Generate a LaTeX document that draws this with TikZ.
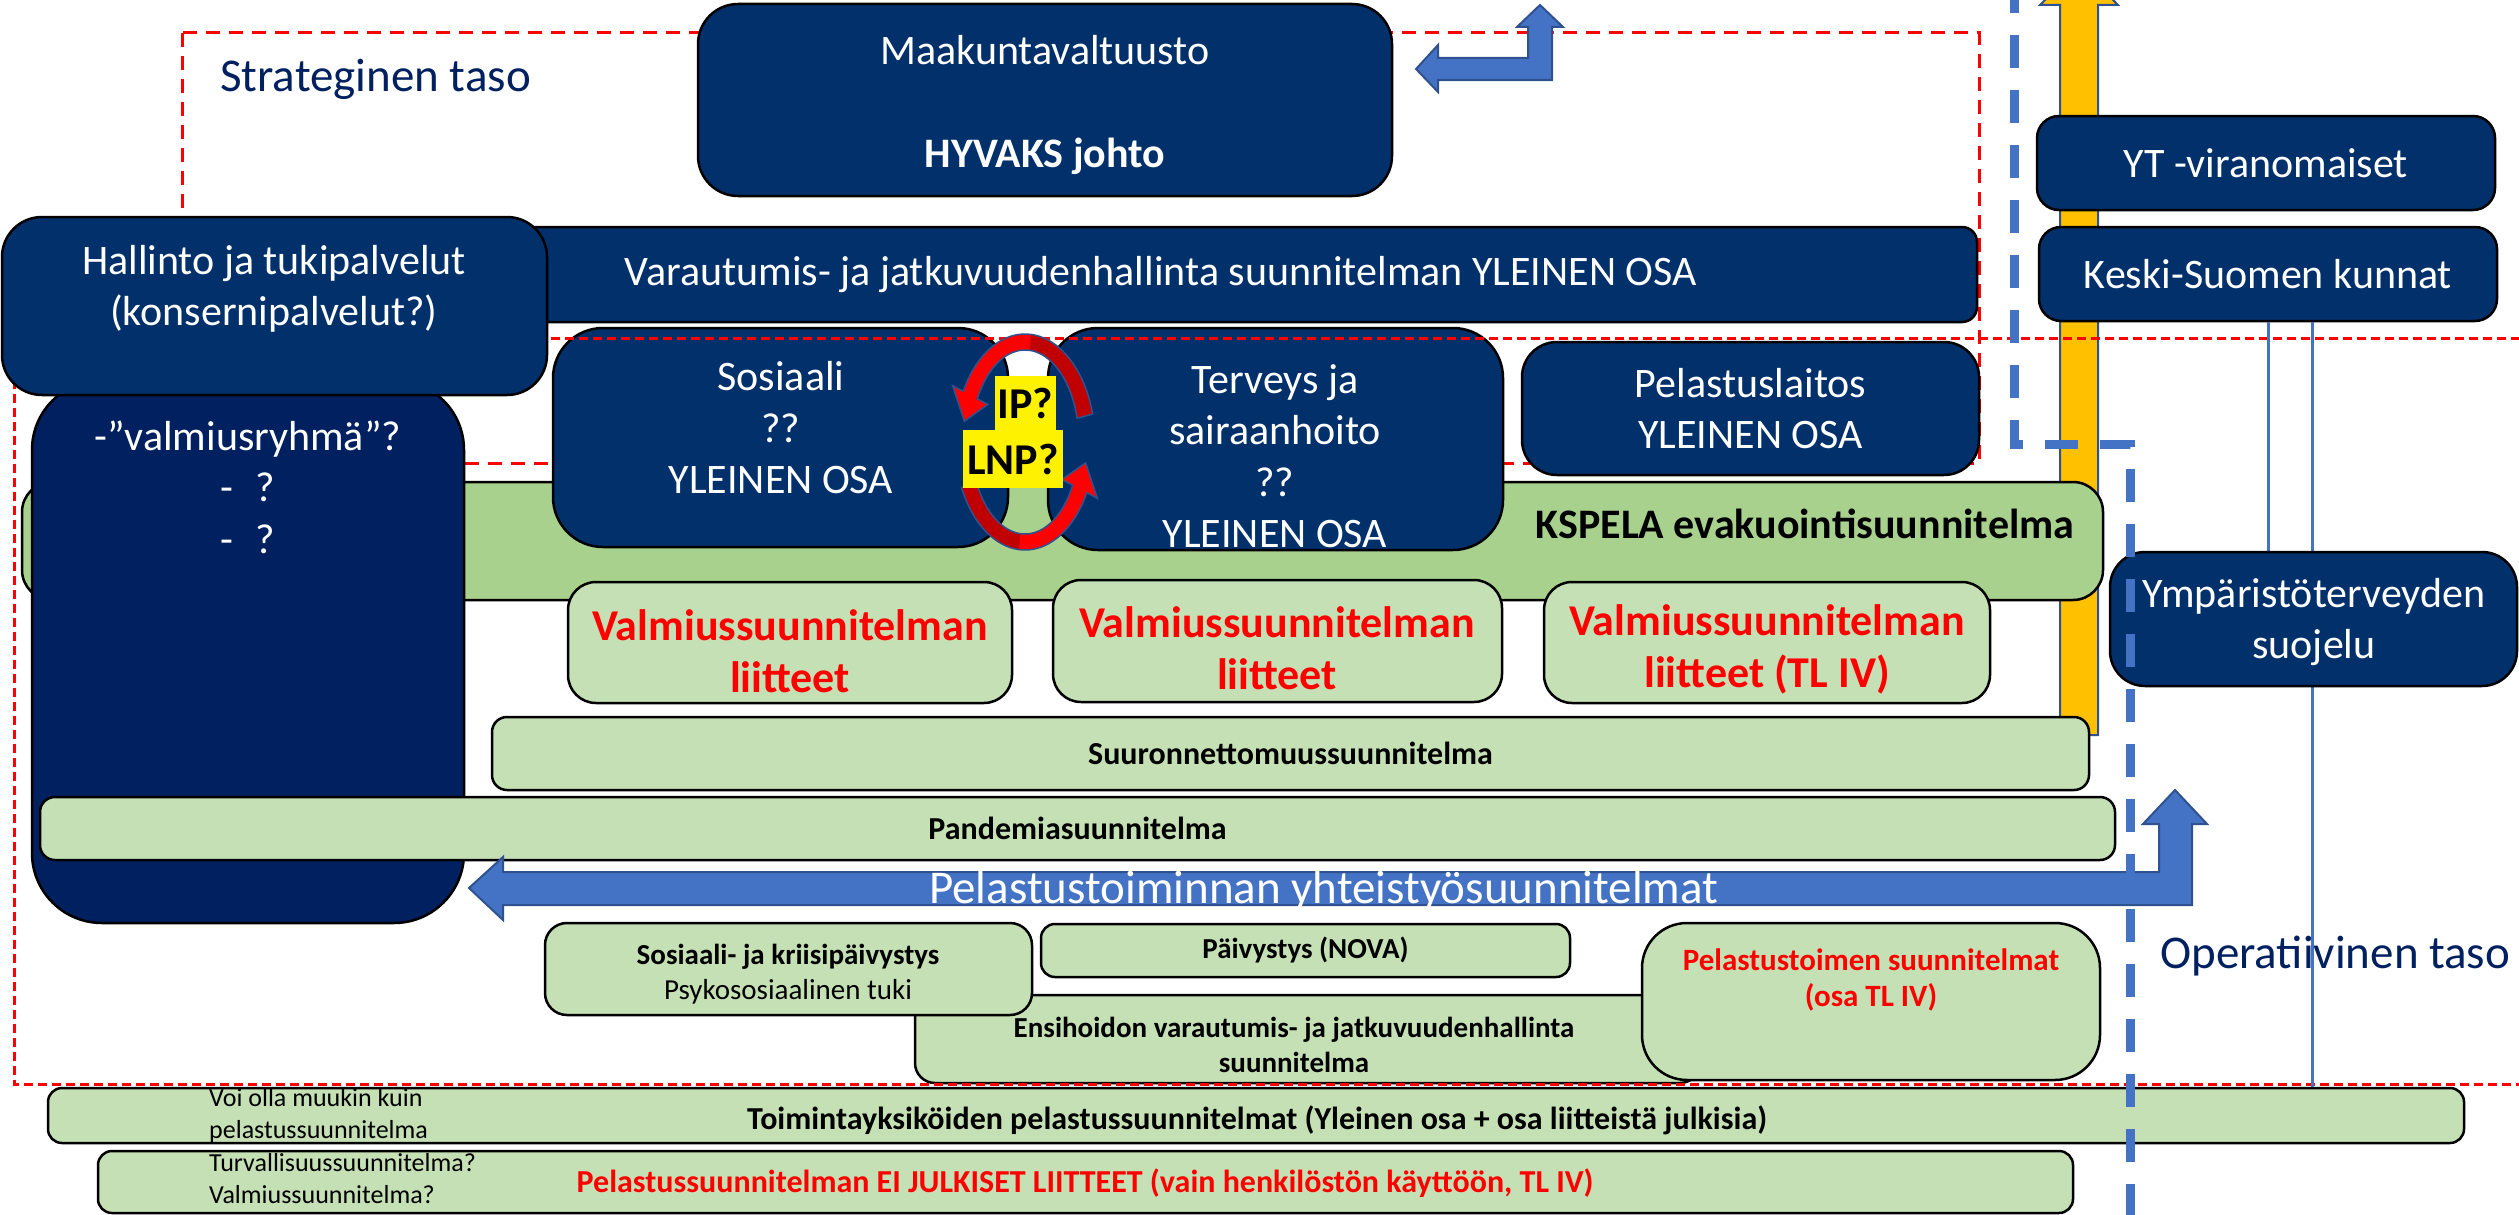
\documentclass[tikz,border=0pt]{standalone}
\usepackage{fontspec}
\setmainfont{Carlito}
\usetikzlibrary{calc}
\definecolor{navyc}{RGB}{2,48,107}
\definecolor{navyd}{RGB}{0,32,96}
\definecolor{kgreen}{RGB}{169,209,142}
\definecolor{lgreen}{RGB}{197,224,180}
\definecolor{ablue}{RGB}{68,114,196}
\definecolor{ablueD}{RGB}{47,82,143}
\definecolor{goldc}{RGB}{255,192,0}
\definecolor{tasoc}{RGB}{0,32,96}
\definecolor{dred}{RGB}{192,0,0}
\tikzset{
  box/.style={draw=black, line width=2.5pt, inner sep=0pt, align=center},
  navybox/.style={box, fill=navyc, text=white, font=\fontsize{42}{51.5}\selectfont},
  greenbox/.style={box, fill=lgreen},
  kbox/.style={box, fill=kgreen},
  whitetxt/.style={text=white, inner sep=0pt, align=center, font=\fontsize{42}{51.5}\selectfont},
  redtxt/.style={text=red, inner sep=0pt, align=center, font=\bfseries\fontsize{44}{52}\selectfont},
  smallred/.style={text=red, inner sep=0pt, align=center, font=\bfseries\fontsize{29}{35}\selectfont},
  smallblack/.style={text=black, inner sep=0pt, align=center, font=\bfseries\fontsize{29}{35}\selectfont},
  notetxt/.style={text=black, inner sep=0pt, align=left, font=\fontsize{26}{32}\selectfont},
  tasotxt/.style={text=tasoc, inner sep=0pt, font=\fontsize{47}{56}\selectfont},
  stratdash/.style={draw=red, line width=3pt, dash pattern=on 14pt off 9pt},
  operdash/.style={draw=red, line width=3pt, dash pattern=on 9pt off 5pt},
  bluedash/.style={draw=ablue, line width=9pt, dash pattern=on 33pt off 22pt},
  thinblue/.style={draw=ablue, line width=3pt},
  blockarrow/.style={fill=ablue, draw=ablueD, line width=2pt},
  yellowlbl/.style={fill=yellow, text=black, inner sep=0pt, font=\bfseries\fontsize{44}{44}\selectfont},
}
\begin{document}
\begin{tikzpicture}[x=1pt,y=-1pt]
\useasboundingbox (0,0) rectangle (2519,1215);
\clip (0,0) rectangle (2519,1215);

% strategic level frame
\draw[stratdash] (182,33) rectangle (1979,463);

% orange vertical arrow
\fill[goldc, draw=ablueD, line width=2pt] (2060,735) -- (2060,5) -- (2040,5) -- (2079,-35) -- (2118,5) -- (2098,5) -- (2098,735) -- cycle;

% top bent arrow
\path[blockarrow] (1416,69) -- (1438,45) -- (1438,58) -- (1528,58) -- (1528,27) -- (1517,27) -- (1540,5) -- (1563,27) -- (1552,27) -- (1552,80) -- (1438,80) -- (1438,92) -- cycle;

% bars and boxes
\node[navybox, rounded corners=15pt, minimum width=1632pt, minimum height=95pt] (varaut) at (1161,274.5) {Varautumis- ja jatkuvuudenhallinta suunnitelman YLEINEN OSA};

\node[kbox, rounded corners=30pt, minimum width=2081pt, minimum height=118pt] (kspela) at (1062.5,541) {};
\node[inner sep=0pt, font=\bfseries\fontsize{42}{48}\selectfont] (kspelaT) at (1805,524) {KSPELA evakuointisuunnitelma};

\node[navybox, rounded corners=50pt, minimum width=455pt, minimum height=219pt] (sosiaali) at (780.5,437.5) {};
\node[whitetxt] (sosiaaliT) at (781,428) {Sosiaali\\??\\YLEINEN OSA};
\node[navybox, rounded corners=50pt, minimum width=455pt, minimum height=222pt] (terveys) at (1275.5,439) {};
\node[whitetxt] (terveysT) at (1275,456) {Terveys ja\\sairaanhoito\\??\\YLEINEN OSA};
\node[navybox, rounded corners=35pt, minimum width=457pt, minimum height=133pt] (pelaitos) at (1750.5,408.5) {Pelastuslaitos\\YLEINEN OSA};

\node[greenbox, rounded corners=28pt, minimum width=444pt, minimum height=121pt] (valm1) at (790,642.5) {};
\node[redtxt] (valm1T) at (790,651) {Valmiussuunnitelman\\liitteet};
\node[greenbox, rounded corners=28pt, minimum width=449pt, minimum height=122pt] (valm2) at (1277.5,641) {};
\node[redtxt] (valm2T) at (1277,648) {Valmiussuunnitelman\\liitteet};
\node[greenbox, rounded corners=28pt, minimum width=446pt, minimum height=121pt] (valm3) at (1767,642.5) {};
\node[redtxt] (valm3T) at (1767,649) {Valmiussuunnitelman\\liitteet (TL IV)};

\node[greenbox, rounded corners=15pt, minimum width=1597pt, minimum height=73pt, font=\bfseries\fontsize{32}{38}\selectfont] (suur) at (1290.5,753.5) {Suuronnettomuussuunnitelma};

\node[box, fill=navyd, rounded corners=70pt, minimum width=432pt, minimum height=543pt] (valmr) at (248,651.5) {};
\node[whitetxt] (valmrT) at (248,487) {-”valmiusryhmä”?\\-\hspace{22pt}?\\-\hspace{22pt}?};

\node[greenbox, rounded corners=15pt, minimum width=2075pt, minimum height=63pt, font=\bfseries\fontsize{32}{38}\selectfont] (pand) at (1077.5,828.5) {Pandemiasuunnitelma};

% big blue arrow
\path[blockarrow] (469,888) -- (503,857) -- (503,872) -- (2159,872) -- (2159,824) -- (2143,824) -- (2175,790) -- (2207,824) -- (2192,824) -- (2192,905) -- (503,905) -- (503,920) -- cycle;
\node[anchor=base west, text=white, inner sep=0pt, font=\fontsize{47}{56}\selectfont] (pelyht) at (929,903) {Pelastustoiminnan yhteistyösuunnitelmat};

% lower green boxes
\node[greenbox, rounded corners=20pt, minimum width=785pt, minimum height=88pt] (ensi) at (1307.5,1039) {};
\node[smallblack] (ensiT) at (1294,1045) {Ensihoidon varautumis- ja jatkuvuudenhallinta\\suunnitelma};
\node[greenbox, rounded corners=22pt, minimum width=487pt, minimum height=92pt] (sos2) at (788.5,969) {};
\node[smallblack] (sos2T) at (788,974) {Sosiaali- ja kriisipäivystys\\\mdseries Psykososiaalinen tuki};
\node[greenbox, rounded corners=14pt, minimum width=529pt, minimum height=53pt, font=\bfseries\fontsize{29}{35}\selectfont] (paiv) at (1305.5,950.5) {Päivystys (NOVA)};
\node[greenbox, rounded corners=45pt, minimum width=458pt, minimum height=157pt] (pelto) at (1871,1001.5) {};
\node[smallred, font=\bfseries\fontsize{31}{36}\selectfont] (peltoT) at (1871,980) {Pelastustoimen suunnitelmat\\(osa TL IV)};

\node[greenbox, rounded corners=14pt, minimum width=2416pt, minimum height=55pt] (toim) at (1256,1115.5) {};
\node[smallblack, font=\bfseries\fontsize{32}{38}\selectfont] (toimT) at (1257,1120) {Toimintayksiköiden pelastussuunnitelmat (Yleinen osa + osa liitteistä julkisia)};
\node[notetxt, anchor=west] (voiT) at (209,1116) {Voi olla muukin kuin\\pelastussuunnitelma};
\node[greenbox, rounded corners=14pt, minimum width=1975pt, minimum height=62pt] (ei) at (1085.5,1182) {};
\node[smallred, font=\bfseries\fontsize{32}{38}\selectfont] (eiT) at (1085,1183) {Pelastussuunnitelman EI JULKISET LIITTEET (vain henkilöstön käyttöön, TL IV)};
\node[notetxt, anchor=west] (turvT) at (209,1179) {Turvallisuussuunnitelma?\\Valmiussuunnitelma?};

% operative level frame
\draw[operdash] (14,338) rectangle (2600,1084);

% top navy boxes
\node[navybox, rounded corners=40pt, minimum width=694pt, minimum height=192pt] (maak) at (1045,100) {};
\node[whitetxt] (maakT) at (1045,105) {Maakuntavaltuusto\\\mbox{}\\\textbf{HYVAKS johto}};
\node[navybox, rounded corners=40pt, minimum width=545pt, minimum height=178pt] (hallinto) at (274.5,306) {};
\node[whitetxt] (hallintoT) at (274,289) {Hallinto ja tukipalvelut\\(konsernipalvelut?)};

\node[navybox, rounded corners=22pt, minimum width=458pt, minimum height=94pt] (yt) at (2266,163) {YT -viranomaiset};
\node[navybox, rounded corners=22pt, minimum width=458pt, minimum height=94pt] (keski) at (2268,274) {Keski-Suomen kunnat};

% level labels
\node[tasotxt, anchor=base west] (strat) at (220,92) {Strateginen taso};
\node[tasotxt, anchor=base west] (oper) at (2160,968) {Operatiivinen taso};

% thin connectors
\draw[thinblue] (keski.south) -- ++(0,231);
\draw[thinblue] ([xshift=44pt]keski.south) -- ([xshift=44pt]keski.south |- toim.north);

\node[navybox, rounded corners=35pt, minimum width=407pt, minimum height=134pt] (ymp) at (2313.5,619) {};
\node[whitetxt] (ympT) at (2314,622) {Ympäristöterveyden\\suojelu};

% circular arrows
\fill[red] plot[domain=15:152, samples=40] ({1025+70*cos(\x)},{442-108*sin(\x)}) -- (952.6,385.7) -- (964.4,421.2) -- (987.9,404.4) -- plot[domain=152:15, samples=40] ({1025+54*cos(\x)},{442-92*sin(\x)}) -- cycle;
\fill[dred] plot[domain=15:85, samples=20] ({1025+70*cos(\x)},{442-108*sin(\x)}) -- plot[domain=85:15, samples=20] ({1025+54*cos(\x)},{442-92*sin(\x)}) -- cycle;
\draw[ablueD, line width=1.5pt] plot[domain=15:152, samples=40] ({1025+70*cos(\x)},{442-108*sin(\x)}) -- (952.6,385.7) -- (964.4,421.2) -- (987.9,404.4) -- plot[domain=152:15, samples=40] ({1025+54*cos(\x)},{442-92*sin(\x)}) -- cycle;

\fill[red] plot[domain=205:332, samples=40] ({1025+70*cos(\x)},{442-108*sin(\x)}) -- (1097.4,498.3) -- (1085.6,462.8) -- (1062,479.5) -- plot[domain=332:205, samples=40] ({1025+54*cos(\x)},{442-92*sin(\x)}) -- cycle;
\fill[dred] plot[domain=205:265, samples=20] ({1025+70*cos(\x)},{442-108*sin(\x)}) -- plot[domain=265:205, samples=20] ({1025+54*cos(\x)},{442-92*sin(\x)}) -- cycle;
\draw[ablueD, line width=1.5pt] plot[domain=205:332, samples=40] ({1025+70*cos(\x)},{442-108*sin(\x)}) -- (1097.4,498.3) -- (1085.6,462.8) -- (1062,479.5) -- plot[domain=332:205, samples=40] ({1025+54*cos(\x)},{442-92*sin(\x)}) -- cycle;

\node[yellowlbl, minimum width=61pt, minimum height=54pt] (ip) at (1025.5,403) {IP?};
\node[yellowlbl, minimum width=100pt, minimum height=58pt] (lnp) at (1013,459) {LNP?};

% blue dashed boundary
\coordinate (bd1) at (2014,-20);
\coordinate (bd2) at (2014,444);
\coordinate (bd3) at (2130,444);
\coordinate (bd4) at (2130,1240);
\draw[bluedash] (bd1) -- (bd2) -- (bd3) -- (bd4);
\end{tikzpicture}
\end{document}
